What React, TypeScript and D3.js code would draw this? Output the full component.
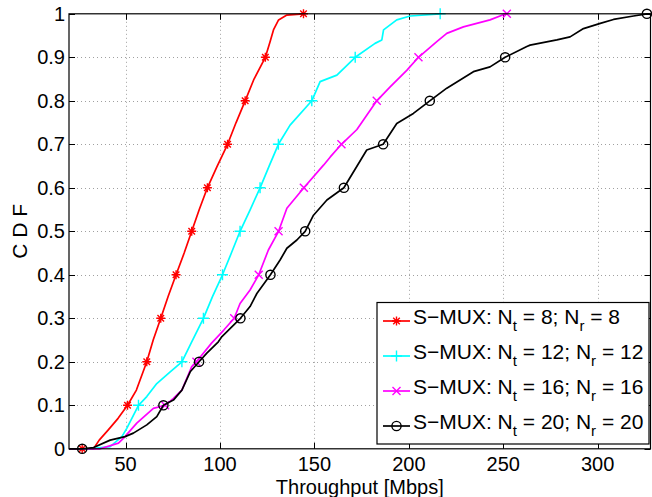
import React from 'react';
import * as d3 from 'd3';

// ---------- data ----------
const xTicks = [50, 100, 150, 200, 250, 300];
const yTicks = [0, 0.1, 0.2, 0.3, 0.4, 0.5, 0.6, 0.7, 0.8, 0.9, 1];
const yTickLabels = ['0', '0.1', '0.2', '0.3', '0.4', '0.5', '0.6', '0.7', '0.8', '0.9', '1'];
const markerLevels = [0, 0.1, 0.2, 0.3, 0.4, 0.5, 0.6, 0.7, 0.8, 0.9, 1];

const antennaCounts = ['8', '12', '16', '20'];

const n8X = [20, 33, 36, 40.7, 46, 51, 55.7, 61.2, 64.6, 68.6, 72.5, 76.7, 81, 85, 89, 93.3, 98.5, 104, 108.5, 113.3, 118, 124, 126.5, 128.3, 131, 135.4, 144.2];
const n8Y = [0, 0, 0.02, 0.043, 0.07, 0.1, 0.135, 0.2, 0.25, 0.3, 0.35, 0.4, 0.45, 0.5, 0.55, 0.6, 0.65, 0.7, 0.75, 0.8, 0.85, 0.9, 0.936, 0.963, 0.986, 0.997, 1];
const n8Markers = [27, 51, 61.2, 68.6, 76.7, 85, 93.3, 104, 113.3, 124, 144.2];

const n12X = [20, 31, 41.8, 48, 50.6, 56.8, 61.2, 66.5, 73.6, 79.8, 85, 91.2, 96, 101.3, 106, 110.6, 116, 121.2, 126, 130.9, 137.1, 148.6, 153, 161.9, 171.6, 182.1, 185.7, 186.6, 193.6, 200.7, 216.6];
const n12Y = [0, 0, 0.005, 0.028, 0.047, 0.1, 0.12, 0.15, 0.177, 0.2, 0.246, 0.3, 0.35, 0.4, 0.45, 0.5, 0.55, 0.6, 0.65, 0.7, 0.744, 0.8, 0.844, 0.859, 0.9, 0.932, 0.94, 0.963, 0.986, 0.995, 1];
const n12Markers = [NaN, 56.8, 79.8, 91.2, 101.3, 110.6, 121.2, 130.9, 148.6, 171.6, 216.6];

const n16X = [20, 36.5, 46.2, 48.8, 55.9, 64.7, 70.9, 75.3, 79.8, 85, 87.5, 95.5, 102, 107.5, 110.6, 115.9, 120.5, 125.6, 131, 135.4, 144.4, 154.8, 158.4, 164.3, 172.5, 183, 190.1, 198.9, 205.1, 214.8, 220.1, 228.9, 243, 250, 251.9];
const n16Y = [0, 0, 0.013, 0.024, 0.059, 0.093, 0.1, 0.116, 0.135, 0.189, 0.2, 0.243, 0.273, 0.3, 0.334, 0.365, 0.4, 0.457, 0.5, 0.553, 0.6, 0.652, 0.671, 0.7, 0.734, 0.8, 0.832, 0.87, 0.9, 0.936, 0.955, 0.97, 0.986, 0.998, 1];
const n16Markers = [NaN, 70.9, 87.5, 107.5, 120.5, 131, 144.4, 164.3, 183, 205.1, 251.9];

const n20X = [20, 27, 33, 41.8, 49.7, 54.1, 61.2, 66.5, 70, 75.3, 79.8, 84.2, 88.9, 93, 99.1, 101, 110.8, 115.9, 119.5, 126.7, 131.8, 135.4, 140.7, 145.1, 149.5, 156.6, 165.6, 177.7, 186.4, 193.6, 202.4, 211.1, 220.1, 234.2, 243, 251, 262.5, 264.2, 278.4, 285.4, 292.5, 301.4, 308.4, 319, 326.1, 328];
const n20Y = [0, 0, 0.003, 0.02, 0.028, 0.036, 0.055, 0.074, 0.1, 0.112, 0.135, 0.177, 0.2, 0.22, 0.246, 0.258, 0.3, 0.327, 0.357, 0.4, 0.434, 0.461, 0.48, 0.5, 0.537, 0.572, 0.6, 0.687, 0.7, 0.748, 0.771, 0.8, 0.829, 0.867, 0.878, 0.9, 0.925, 0.928, 0.94, 0.947, 0.966, 0.978, 0.987, 0.995, 1, 1];
const n20Markers = [27, 70, 88.9, 110.8, 126.7, 145.1, 165.6, 186.4, 211.1, 251, 326.1];

type MarkerKind = 'star' | 'plus' | 'x' | 'circle';
const series = [
  { xs: n8X, ys: n8Y, mx: n8Markers, color: '#ff0000', marker: 'star' as MarkerKind, n: antennaCounts[0] },
  { xs: n12X, ys: n12Y, mx: n12Markers, color: '#00ffff', marker: 'plus' as MarkerKind, n: antennaCounts[1] },
  { xs: n16X, ys: n16Y, mx: n16Markers, color: '#ff00ff', marker: 'x' as MarkerKind, n: antennaCounts[2] },
  { xs: n20X, ys: n20Y, mx: n20Markers, color: '#000000', marker: 'circle' as MarkerKind, n: antennaCounts[3] },
];

// ---------- layout ----------
const W = 652, H = 497;
const left = 69, right = 650.5, top = 13.8, bottom = 448.8;
const FONT = 'Liberation Sans, Arial, Helvetica, sans-serif';

function Marker({ kind, cx, cy, color }: { kind: MarkerKind; cx: number; cy: number; color: string }) {
  const sw = 1.4;
  if (kind === 'circle') return <circle cx={cx} cy={cy} r={4.6} fill="none" stroke={color} strokeWidth={sw} />;
  if (kind === 'plus') {
    const s = 5.5;
    return <path d={`M${cx - s},${cy}H${cx + s}M${cx},${cy - s}V${cy + s}`} stroke={color} strokeWidth={sw} />;
  }
  if (kind === 'x') {
    const s = 4;
    return <path d={`M${cx - s},${cy - s}L${cx + s},${cy + s}M${cx - s},${cy + s}L${cx + s},${cy - s}`} stroke={color} strokeWidth={sw} />;
  }
  const s = 4.5, d = 3.3;
  return (
    <path
      d={`M${cx - s},${cy}H${cx + s}M${cx},${cy - s}V${cy + s}M${cx - d},${cy - d}L${cx + d},${cy + d}M${cx - d},${cy + d}L${cx + d},${cy - d}`}
      stroke={color}
      strokeWidth={sw}
    />
  );
}

export default function App() {
  const x = d3.scaleLinear().domain([20, 328]).range([left, right]);
  const y = d3.scaleLinear().domain([0, 1]).range([bottom, top]);
  const line = d3
    .line<[number, number]>()
    .x((d) => x(d[0]))
    .y((d) => y(d[1]));

  const legX = 377, legY = 302.5, legW = 272, legH = 141.5;
  const rowY0 = 321, rowStep = 35;

  return (
    <svg width={W} height={H} style={{ position: 'absolute', left: 0, top: 0, background: '#fff' }} fontFamily={FONT}>
      <rect x={0} y={0} width={W} height={H} fill="#fff" />
      {/* grid */}
      <g stroke="#a0a0a0" strokeWidth={1} strokeDasharray="1 3">
        {xTicks.map((t) => (
          <line key={'gx' + t} x1={Math.round(x(t)) + 0.5} x2={Math.round(x(t)) + 0.5} y1={top} y2={bottom} />
        ))}
        {yTicks.slice(1, -1).map((t) => (
          <line key={'gy' + t} x1={left} x2={right} y1={Math.round(y(t)) + 0.5} y2={Math.round(y(t)) + 0.5} />
        ))}
      </g>
      {/* ticks */}
      <g stroke="#000" strokeWidth={1}>
        {xTicks.map((t) => (
          <g key={'tx' + t}>
            <line x1={Math.round(x(t)) + 0.5} x2={Math.round(x(t)) + 0.5} y1={bottom} y2={bottom - 6} />
            <line x1={Math.round(x(t)) + 0.5} x2={Math.round(x(t)) + 0.5} y1={top} y2={top + 6} />
          </g>
        ))}
        {yTicks.map((t) => (
          <g key={'ty' + t}>
            <line x1={left} x2={left + 6} y1={Math.round(y(t)) + 0.5} y2={Math.round(y(t)) + 0.5} />
            <line x1={right} x2={right - 6} y1={Math.round(y(t)) + 0.5} y2={Math.round(y(t)) + 0.5} />
          </g>
        ))}
      </g>
      {/* curves */}
      {series.map((s, i) => (
        <g key={'s' + i}>
          <path
            d={line(s.xs.map((v, j) => [v, s.ys[j]] as [number, number])) || ''}
            fill="none"
            stroke={s.color}
            strokeWidth={1.7}
            strokeLinejoin="round"
          />
          {s.mx.map((v, j) =>
            Number.isFinite(v) ? (
              <Marker key={j} kind={s.marker} cx={x(v)} cy={y(markerLevels[j])} color={s.color} />
            ) : null
          )}
        </g>
      ))}
      {/* axes box */}
      <rect x={left} y={top} width={right - left} height={bottom - top} fill="none" stroke="#000" strokeWidth={1.2} />
      {/* tick labels */}
      <g fontSize={20} fill="#000">
        {xTicks.map((t) => (
          <text key={'lx' + t} x={x(t)} y={470.5} textAnchor="middle">
            {t}
          </text>
        ))}
        {yTicks.map((t, i) => (
          <text key={'ly' + t} x={65} y={y(t) + 7} textAnchor="end">
            {yTickLabels[i]}
          </text>
        ))}
      </g>
      <text x={(left + right) / 2} y={494} textAnchor="middle" fontSize={20}>
        Throughput [Mbps]
      </text>
      <text transform={`translate(27,${(top + bottom) / 2}) rotate(-90)`} textAnchor="middle" fontSize={21}>
        C D F
      </text>
      {/* legend */}
      <rect x={legX} y={legY} width={legW} height={legH} fill="#fff" stroke="#000" strokeWidth={1.2} />
      {series.map((s, i) => {
        const ry = rowY0 + i * rowStep;
        return (
          <g key={'lg' + i}>
            <line x1={383} x2={410} y1={ry} y2={ry} stroke={s.color} strokeWidth={1.7} />
            <Marker kind={s.marker} cx={396.5} cy={ry} color={s.color} />
            <text x={413} y={ry + 3} fontSize={21}>
              <tspan>S−MUX: N</tspan>
              <tspan fontSize={15} dy={7}>t</tspan>
              <tspan dy={-7}>{` = ${s.n}; N`}</tspan>
              <tspan fontSize={15} dy={7}>r</tspan>
              <tspan dy={-7}>{` = ${s.n}`}</tspan>
            </text>
          </g>
        );
      })}
    </svg>
  );
}
